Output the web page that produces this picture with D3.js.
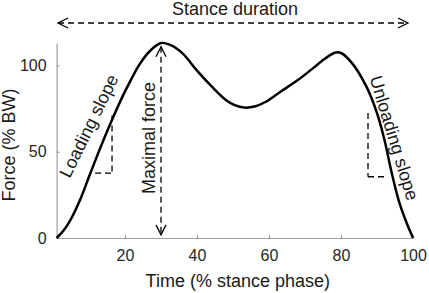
<!DOCTYPE html>
<html>
<head>
<meta charset="utf-8">
<script src="https://cdn.jsdelivr.net/npm/d3@7"></script>
<style>
  body { margin: 0; background: #fff; }
  text { font-family: "Liberation Sans", Arial, sans-serif; fill: #1a1a1a; }
</style>
</head>
<body>
<div id="chart"></div>
<script>
// force curve, % stance phase vs % body weight
const phase = [1, 3, 5, 7.5, 10, 13, 16.4, 19.2, 21, 24, 27, 30, 33, 36, 40, 44, 48, 50.5, 53, 56, 59, 63, 68, 72, 75.6, 78.5, 80, 83, 87, 90, 92, 94, 96, 98, 100];
const force = [0, 4.5, 11, 22, 35.5, 51.5, 68.5, 81.5, 89, 100.5, 108.5, 113, 111.5, 107, 97, 88, 80, 77, 75.6, 76.2, 78.8, 84.5, 91.5, 98, 104, 107.5, 107.2, 101.5, 88, 72.4, 57.5, 38.5, 22, 10, 0];

const xTicks = [20, 40, 60, 80, 100];
const yTicks = [0, 50, 100];

// annotations (data units)
const stanceArrow = { x0: 1.4, x1: 98.6, y: 124.6, label: 'Stance duration' };
const maxArrow = { x: 30, y0: 110.8, y1: 1.8, label: 'Maximal force' };
const loadingStep = { x0: 11.7, x1: 16.4, yLow: 37.6, yHigh: 71 };
const unloadingStep = { x0: 87.5, x1: 92.8, yLow: 35.5, yHigh: 72.5 };

const W = 429, H = 293;
const margin = { top: 43, right: 16, bottom: 55, left: 56.6 };
const width = W - margin.left - margin.right;
const height = H - margin.top - margin.bottom;

const svg = d3.select('#chart').append('svg')
    .attr('width', W).attr('height', H);
const g = svg.append('g')
    .attr('transform', `translate(${margin.left},${margin.top})`);

const x = d3.scaleLinear().domain([1, 100]).range([0, width]);
const y = d3.scaleLinear().domain([0, 113]).range([height, 0]);

const axisColor = '#a0a0a0';

// axes
const xAxis = g.append('g').attr('transform', `translate(0,${height})`)
    .call(d3.axisBottom(x).tickValues(xTicks).tickSizeInner(-3).tickSizeOuter(0).tickPadding(12));
const yAxis = g.append('g')
    .call(d3.axisLeft(y).tickValues(yTicks).tickSizeInner(-3).tickSizeOuter(0).tickPadding(10));
[xAxis, yAxis].forEach(a => {
    a.select('.domain').attr('stroke', axisColor).attr('stroke-width', 1.2);
    a.selectAll('.tick line').attr('stroke', axisColor).attr('stroke-width', 1.2);
    a.selectAll('.tick text').style('font-size', '16px').style('fill', '#262626')
        .attr('font-family', null);
});

// axis labels
g.append('text').attr('x', width / 2 + 3).attr('y', height + 49)
    .attr('text-anchor', 'middle').style('font-size', '18px').text('Time (% stance phase)');
g.append('text').attr('transform', `translate(${15 - margin.left},${145 - margin.top}) rotate(-90)`)
    .attr('text-anchor', 'middle').style('font-size', '18px').text('Force (% BW)');

// force curve
const line = d3.line().x((d, i) => x(phase[i])).y(d => y(d)).curve(d3.curveCatmullRom.alpha(0.5));
g.append('path').datum(force)
    .attr('d', line)
    .attr('fill', 'none').attr('stroke', '#000').attr('stroke-width', 2.5);

const dash = '6,4';
function dashed(x1, y1, x2, y2) {
    g.append('line').attr('x1', x1).attr('y1', y1).attr('x2', x2).attr('y2', y2)
        .attr('stroke', '#000').attr('stroke-width', 1.3).attr('stroke-dasharray', dash);
}
// open chevron head at (px,py) pointing in direction (dx,dy)
function head(px, py, dx, dy) {
    const len = 10, half = 5;
    const nx = -dy, ny = dx;
    const bx = px - dx * len, by = py - dy * len;
    g.append('path')
        .attr('d', `M${bx + nx * half},${by + ny * half}L${px},${py}L${bx - nx * half},${by - ny * half}`)
        .attr('fill', 'none').attr('stroke', '#000').attr('stroke-width', 1.3);
}

// stance duration arrow
const sy = y(stanceArrow.y);
dashed(x(stanceArrow.x0), sy, x(stanceArrow.x1), sy);
head(x(stanceArrow.x0), sy, -1, 0);
head(x(stanceArrow.x1), sy, 1, 0);
g.append('text').attr('x', (x(stanceArrow.x0) + x(stanceArrow.x1)) / 2 + 2).attr('y', sy - 8)
    .attr('text-anchor', 'middle').style('font-size', '18px').text(stanceArrow.label);

// maximal force arrow
const mx = x(maxArrow.x);
dashed(mx, y(maxArrow.y0), mx, y(maxArrow.y1));
head(mx, y(maxArrow.y0), 0, -1);
head(mx, y(maxArrow.y1), 0, 1);
g.append('text').attr('transform', `translate(${mx - 12},${138 - margin.top}) rotate(-90)`)
    .attr('text-anchor', 'middle').attr('dominant-baseline', 'central')
    .style('font-size', '18px').text(maxArrow.label);

// slope triangles
dashed(x(loadingStep.x1), y(loadingStep.yHigh), x(loadingStep.x1), y(loadingStep.yLow));
dashed(x(loadingStep.x0), y(loadingStep.yLow), x(loadingStep.x1), y(loadingStep.yLow));
dashed(x(unloadingStep.x0), y(unloadingStep.yHigh), x(unloadingStep.x0), y(unloadingStep.yLow));
dashed(x(unloadingStep.x0), y(unloadingStep.yLow), x(unloadingStep.x1), y(unloadingStep.yLow));

g.append('text').attr('transform', `translate(${89 - margin.left},${126 - margin.top}) rotate(-64)`)
    .attr('text-anchor', 'middle').attr('dominant-baseline', 'central')
    .style('font-size', '18px').text('Loading slope');
g.append('text').attr('transform', `translate(${394 - margin.left},${138 - margin.top}) rotate(73)`)
    .attr('text-anchor', 'middle').attr('dominant-baseline', 'central')
    .style('font-size', '18px').text('Unloading slope');
</script>
</body>
</html>
